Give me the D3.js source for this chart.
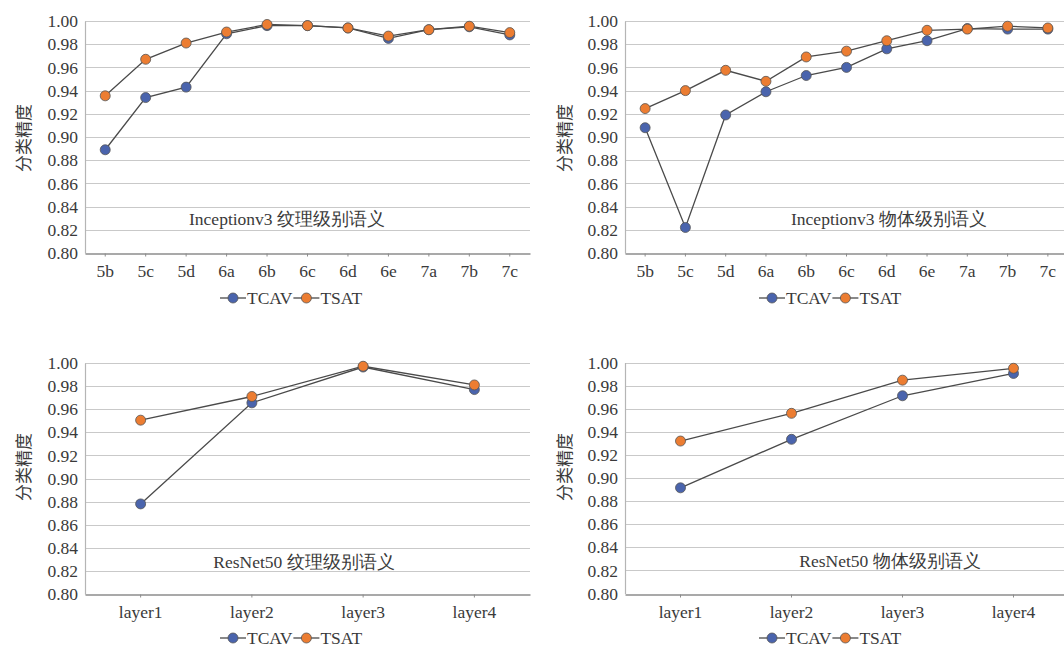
<!DOCTYPE html>
<html><head><meta charset="utf-8">
<script src="https://cdn.jsdelivr.net/npm/d3@7"></script>
<style>
html,body{margin:0;padding:0;background:#fff;}
svg{display:block;}
</style></head>
<body>
<svg id="chart" width="1064" height="648"></svg>
<script>
// ---------- data ----------
const incCats = ["5b","5c","5d","6a","6b","6c","6d","6e","7a","7b","7c"];
const resCats = ["layer1","layer2","layer3","layer4"];
const yTicks = [0.80,0.82,0.84,0.86,0.88,0.90,0.92,0.94,0.96,0.98,1.00];
const seriesNames = ["TCAV","TSAT"];
const seriesColors = ["#4a64ad","#ec7d32"];
const yTitle = "分类精度";

const incTexTCAV = [0.889,0.934,0.943,0.989,0.996,0.996,0.994,0.985,0.9925,0.995,0.988];
const incTexTSAT = [0.9355,0.967,0.981,0.9905,0.997,0.996,0.994,0.987,0.9925,0.9955,0.990];
const incObjTCAV = [0.908,0.822,0.919,0.939,0.953,0.960,0.976,0.983,0.9935,0.993,0.993];
const incObjTSAT = [0.9245,0.940,0.9575,0.948,0.969,0.974,0.983,0.992,0.993,0.9955,0.994];
const resTexTCAV = [0.878,0.9655,0.9965,0.977];
const resTexTSAT = [0.9505,0.971,0.9972,0.981];
const resObjTCAV = [0.8915,0.9335,0.9712,0.9905];
const resObjTSAT = [0.932,0.956,0.9847,0.995];

const titles = ["Inceptionv3 纹理级别语义","Inceptionv3 物体级别语义","ResNet50 纹理级别语义","ResNet50 物体级别语义"];

// ---------- drawing ----------
const svg = d3.select("#chart");
const FONT = '"Liberation Serif",serif';
const TXT = "#3a3a3a";

function setFont(sel, size){
  sel.style("font-family",FONT).style("font-size",size+"px").attr("fill",TXT);
}

function panel(o){
  const g = svg.append("g");
  const x = d3.scaleBand().domain(o.cats).range([o.left, o.left + o.width]).paddingInner(0).paddingOuter(0);
  const y = d3.scaleLinear().domain([0.80,1.00]).range([o.bottom, o.top]);
  const cx = c => x(c) + x.bandwidth()/2;

  // gridlines
  g.selectAll(".grid").data(yTicks.slice(1)).enter().append("line")
    .attr("x1", o.left).attr("x2", o.left + o.width)
    .attr("y1", d => Math.round(y(d))+0.5).attr("y2", d => Math.round(y(d))+0.5)
    .attr("stroke","#c9c9c9").attr("stroke-width",1.2);

  // y axis
  const ya = d3.axisLeft(y).tickValues(yTicks).tickFormat(d3.format(".2f")).tickSize(0).tickPadding(7);
  const yg = g.append("g").attr("transform",`translate(${o.left},0)`).call(ya);
  yg.attr("font-family",null).attr("font-size",null);
  yg.select(".domain").attr("stroke","#b5b5b5").attr("stroke-width",1.2);
  setFont(yg.selectAll("text"), 17.5);

  // x axis
  const xa = d3.axisBottom(x).tickSize(3).tickSizeOuter(0).tickPadding(8);
  const xg = g.append("g").attr("transform",`translate(0,${Math.round(o.bottom)+0.5})`).call(xa);
  xg.attr("font-family",null).attr("font-size",null);
  xg.select(".domain").attr("stroke","#8c8c8c").attr("stroke-width",1.6);
  xg.selectAll(".tick line").attr("stroke","#8c8c8c");
  setFont(xg.selectAll("text"), 17.5);

  // lines and markers
  const line = d3.line().x((d,i) => cx(o.cats[i])).y(d => y(d));
  o.series.forEach((vals, si) => {
    g.append("path").datum(vals).attr("d", line)
      .attr("fill","none").attr("stroke","#4a4a4a").attr("stroke-width",1.3);
  });
  o.series.forEach((vals, si) => {
    g.selectAll(".m"+si).data(vals).enter().append("circle")
      .attr("cx",(d,i) => cx(o.cats[i])).attr("cy", d => y(d)).attr("r",5)
      .attr("fill", seriesColors[si]).attr("stroke","#555").attr("stroke-width",0.8);
  });

  // panel title
  setFont(g.append("text").attr("x",o.titleX).attr("y",o.titleY).attr("text-anchor","middle").text(o.title), 17.5);

  // y title
  g.append("text").attr("transform",`translate(${o.yTitleX},${o.yTitleY}) rotate(-90)`)
    .attr("text-anchor","middle").attr("dominant-baseline","central")
    .style("font-family","'Noto Sans CJK SC',sans-serif").style("font-size","17px").attr("fill",TXT).text(yTitle);

  // legend
  const lg = g.append("g").attr("transform",`translate(${o.legX},${o.legY})`);
  let xo = 0;
  seriesNames.forEach((n, si) => {
    lg.append("line").attr("x1",xo).attr("x2",xo+26).attr("y1",0).attr("y2",0)
      .attr("stroke","#4a4a4a").attr("stroke-width",1.3);
    lg.append("circle").attr("cx",xo+13).attr("cy",0).attr("r",5)
      .attr("fill",seriesColors[si]).attr("stroke","#555").attr("stroke-width",0.8);
    const t = lg.append("text").attr("x",xo+27).attr("y",5.5).text(n);
    setFont(t, 17.5);
    xo += 27 + t.node().getComputedTextLength() + 1;
  });
}

panel({cats:incCats, series:[incTexTCAV,incTexTSAT], left:85, width:445, top:21, bottom:253,
  title:titles[0], titleX:287, titleY:225, yTitleX:22, yTitleY:138, legX:220, legY:298});
panel({cats:incCats, series:[incObjTCAV,incObjTSAT], left:625, width:443, top:21, bottom:253,
  title:titles[1], titleX:889, titleY:225, yTitleX:563, yTitleY:138, legX:759, legY:298});
panel({cats:resCats, series:[resTexTCAV,resTexTSAT], left:85, width:445, top:363, bottom:594,
  title:titles[2], titleX:304, titleY:568, yTitleX:22, yTitleY:467, legX:220, legY:638});
panel({cats:resCats, series:[resObjTCAV,resObjTSAT], left:625, width:444, top:362.5, bottom:593.5,
  title:titles[3], titleX:890, titleY:567, yTitleX:563, yTitleY:467, legX:759, legY:638});
</script>
</body></html>
